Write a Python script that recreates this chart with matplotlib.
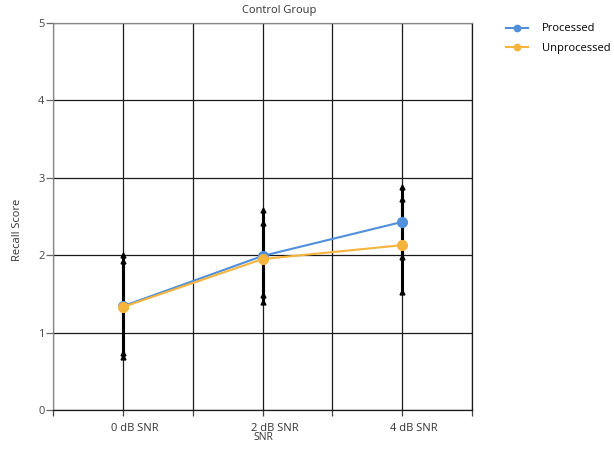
import matplotlib
matplotlib.use("Agg")
import matplotlib.pyplot as plt
import matplotlib.transforms as mtransforms
import numpy as np

categories = ["0 dB SNR", "2 dB SNR", "4 dB SNR"]
processed = [1.34, 1.99, 2.43]
processed_err = [0.66, 0.60, 0.45]
unprocessed = [1.33, 1.95, 2.13]
unprocessed_err = [0.60, 0.47, 0.60]

plt.rcParams['font.family'] = ['Open Sans', 'DejaVu Sans']

fig = plt.figure(figsize=(6.14, 4.5), dpi=100)
ax = fig.add_axes([53/614, 40/450, (472-53)/614, (410-23)/450])

x = np.arange(len(categories))
blue = "#4f8fdc"
orange = "#f5b43c"

for vals, errs in [(processed, processed_err), (unprocessed, unprocessed_err)]:
    vals = np.array(vals); errs = np.array(errs)
    ax.vlines(x, vals - errs, vals + errs, color="black", lw=2.2, zorder=3)
    ax.plot(x, vals + errs, ls="none", marker="^", ms=3.5, color="black", zorder=3)
    ax.plot(x, vals - errs, ls="none", marker="^", ms=3.5, color="black", zorder=3)

ax.plot(x, processed, color=blue, lw=1.5, marker="o", ms=7, label="Processed", zorder=4)
ax.plot(x, unprocessed, color=orange, lw=1.5, marker="o", ms=7, label="Unprocessed", zorder=5)

ax.set_xlim(-0.5, 2.5)
ax.set_ylim(0, 5)
ax.set_yticks([0, 1, 2, 3, 4, 5])
ax.set_xticks(np.arange(-0.5, 2.51, 0.5))
ax.set_xticklabels([""] * 7)
for xi, lab in zip(x, categories):
    offset = mtransforms.ScaledTranslation(12/100, -13/100, fig.dpi_scale_trans)
    ax.text(xi, 0, lab, transform=mtransforms.blended_transform_factory(ax.transData, ax.transAxes) + offset,
            ha="center", va="top", fontsize=8, color="#333333")

ax.grid(True, color="#1a1a1a", lw=0.9)
ax.set_axisbelow(True)
ax.spines["top"].set_color("#888888")
ax.spines["left"].set_color("#888888")
ax.spines["right"].set_color("#1a1a1a")
ax.spines["bottom"].set_color("#1a1a1a")
for s in ax.spines.values():
    s.set_linewidth(0.9)
ax.tick_params(axis="y", length=5, width=0.9, color="#666666", labelsize=8, labelcolor="#444444", pad=1)
ax.tick_params(axis="x", length=4, width=0.9, color="#444444")

ax.set_ylabel("Recall Score", fontsize=8, color="#333333")
ax.yaxis.set_label_coords(-(53 - 23) / 419, (410 - 230) / 387)
fig.text(263/614, 1 - 438/450, "SNR", ha="center", va="center", fontsize=7.5, color="#333333")
fig.text(279/614, 1 - 11/450, "Control Group", ha="center", va="center", fontsize=8, color="#333333")

fig.legend(loc="upper left", bbox_to_anchor=(502/614, 1 - 19/450), frameon=False,
           fontsize=8, handlelength=1.9, handletextpad=1.3, labelspacing=0.75,
           borderaxespad=0, markerscale=0.65)

fig.savefig("out.png", dpi=100)
